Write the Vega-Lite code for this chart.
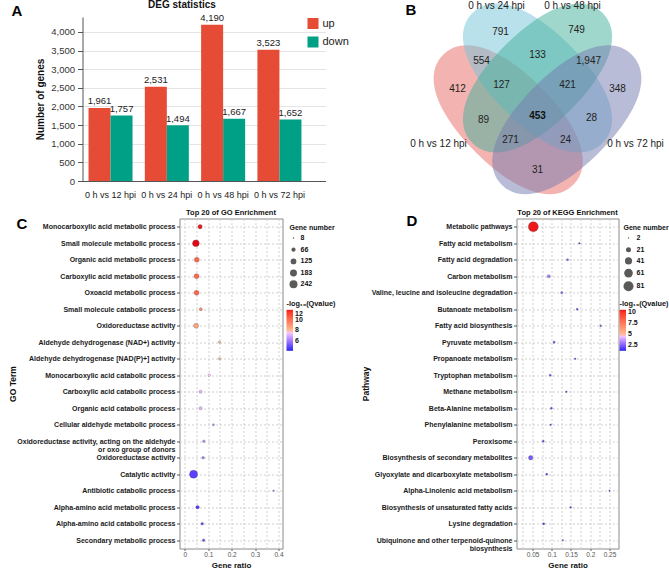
{
  "$schema": "https://vega.github.io/schema/vega-lite/v6.json",
  "background": "white",
  "padding": {"left": 6.5, "top": 0, "right": 0, "bottom": 0},
  "config": {"font": "Liberation Sans", "view": {"stroke": null}},
  "columns": 1,
  "spacing": 9.5,
  "align": "none",
  "resolve": {"scale": {"color": "independent", "fill": "independent", "size": "independent"}},
  "concat": [
    {
      "columns": 2,
      "spacing": 4,
      "align": "none",
      "resolve": {"scale": {"color": "independent"}},
      "concat": [
        {"width": 1, "height": 1, "data": {"values": [{}]}, "mark": {"type": "text", "text": ""}},
        {
          "columns": 2,
          "spacing": 49,
          "align": "none",
          "resolve": {"scale": {"color": "independent"}},
          "concat": [
            {
              "title": {"text": "A", "anchor": "start", "frame": "group", "fontSize": 15, "fontWeight": "bold", "color": "#000", "offset": -19, "dx": -71},
              "vconcat": [
                {
                  "title": {"text": "DEG statistics", "fontSize": 10, "fontWeight": "bold", "color": "#111", "anchor": "middle", "dx": -22, "offset": 3},
                  "width": 243,
                  "height": 164,
                  "data": {"values": [
                    {"comp": "0 h vs 12 hpi", "dir": "up", "n": 1961},
                    {"comp": "0 h vs 12 hpi", "dir": "down", "n": 1757},
                    {"comp": "0 h vs 24 hpi", "dir": "up", "n": 2531},
                    {"comp": "0 h vs 24 hpi", "dir": "down", "n": 1494},
                    {"comp": "0 h vs 48 hpi", "dir": "up", "n": 4190},
                    {"comp": "0 h vs 48 hpi", "dir": "down", "n": 1667},
                    {"comp": "0 h vs 72 hpi", "dir": "up", "n": 3523},
                    {"comp": "0 h vs 72 hpi", "dir": "down", "n": 1652}
                  ]},
                  "encoding": {
                    "x": {"field": "comp", "type": "nominal", "sort": null,
                      "scale": {"paddingInner": 0.218, "paddingOuter": 0.267, "align": 0.2},
                      "axis": {"title": null, "labelAngle": 0, "labelFontSize": 9, "labelColor": "#222", "ticks": false, "labelPadding": 9, "domainColor": "#555"}},
                    "xOffset": {"field": "dir", "type": "nominal", "sort": ["up", "down"], "scale": {"paddingInner": 0, "paddingOuter": 0}},
                    "y": {"field": "n", "type": "quantitative",
                      "scale": {"domain": [0, 4400], "nice": false},
                      "axis": {"values": [0, 500, 1000, 1500, 2000, 2500, 3000, 3500, 4000], "format": ",.0f", "title": "Number of genes", "titleFontSize": 10, "titleFontWeight": "bold", "titleColor": "#111", "titlePadding": 5, "labelFontSize": 9.5, "labelColor": "#333", "tickSize": 5, "tickColor": "#555", "domainColor": "#555", "gridColor": "#e4e4e4", "labelPadding": 3}}
                  },
                  "layer": [
                    {
                      "mark": {"type": "bar"},
                      "encoding": {
                        "color": {"field": "dir", "type": "nominal",
                          "scale": {"domain": ["up", "down"], "range": ["#E64B35", "#00A087"]},
                          "legend": {"orient": "none", "legendX": 225, "legendY": 1, "title": null, "symbolType": "square", "symbolSize": 121, "symbolStrokeWidth": 0, "labelFontSize": 11, "labelColor": "#222", "rowPadding": 6.5, "padding": 0, "labelOffset": 4}}
                      }
                    },
                    {
                      "mark": {"type": "text", "baseline": "bottom", "dy": -1.5, "fontSize": 9.5, "color": "#222"},
                      "encoding": {"text": {"field": "n", "type": "quantitative", "format": ","}}
                    }
                  ]
                }
              ]
            },
            {
              "title": {"text": "B", "anchor": "start", "frame": "group", "fontSize": 15, "fontWeight": "bold", "color": "#000", "offset": -16.5, "dx": 7},
              "width": 269,
              "height": 180,
              "layer": [
                {
                  "data": {"values": [
                    {"set": "0 h vs 12 hpi", "cx": 509.7, "cy": 119.7},
                    {"set": "0 h vs 24 hpi", "cx": 539, "cy": 78}
                  ]},
                  "mark": {"type": "point", "shape": "M1,0C1,0.31 0.62,0.5 0,0.5C-0.62,0.5 -1,0.31 -1,0C-1,-0.31 -0.62,-0.5 0,-0.5C0.62,-0.5 1,-0.31 1,0Z", "filled": true, "size": 33856, "angle": 45, "opacity": 0.5, "strokeWidth": 0},
                  "encoding": {
                    "x": {"field": "cx", "type": "quantitative", "scale": {"domain": [400, 669], "nice": false, "zero": false}, "axis": null},
                    "y": {"field": "cy", "type": "quantitative", "scale": {"domain": [17, 197], "nice": false, "zero": false, "reverse": true}, "axis": null},
                    "color": {"field": "set", "type": "nominal", "scale": {"domain": ["0 h vs 12 hpi", "0 h vs 24 hpi", "0 h vs 48 hpi", "0 h vs 72 hpi"], "range": ["#E86A64", "#73C3D7", "#41AF9B", "#7379AF"]}, "legend": null}
                  }
                },
                {
                  "data": {"values": [
                    {"set": "0 h vs 48 hpi", "cx": 539, "cy": 78},
                    {"set": "0 h vs 72 hpi", "cx": 568.3, "cy": 119.7}
                  ]},
                  "mark": {"type": "point", "shape": "M1,0C1,0.31 0.62,0.5 0,0.5C-0.62,0.5 -1,0.31 -1,0C-1,-0.31 -0.62,-0.5 0,-0.5C0.62,-0.5 1,-0.31 1,0Z", "filled": true, "size": 33856, "angle": -45, "opacity": 0.5, "strokeWidth": 0},
                  "encoding": {
                    "x": {"field": "cx", "type": "quantitative", "axis": null},
                    "y": {"field": "cy", "type": "quantitative", "axis": null},
                    "color": {"field": "set", "type": "nominal", "legend": null}
                  }
                },
                {
                  "data": {"values": [
                    {"n": 791, "x": 502, "y": 32},
                    {"n": 749, "x": 578, "y": 30},
                    {"n": 554, "x": 483, "y": 61},
                    {"n": 133, "x": 539, "y": 55},
                    {"n": 1947, "x": 590, "y": 61},
                    {"n": 412, "x": 459, "y": 89},
                    {"n": 127, "x": 503, "y": 85},
                    {"n": 421, "x": 569, "y": 85},
                    {"n": 348, "x": 619, "y": 89},
                    {"n": 89, "x": 485, "y": 120},
                    {"n": 453, "x": 539, "y": 116},
                    {"n": 28, "x": 593, "y": 118},
                    {"n": 271, "x": 512, "y": 140},
                    {"n": 24, "x": 567, "y": 140},
                    {"n": 31, "x": 539, "y": 170}
                  ]},
                  "layer": [
                    {
                      "transform": [{"filter": "datum.n != 453"}],
                      "mark": {"type": "text", "fontSize": 10, "color": "#222"},
                      "encoding": {
                        "x": {"field": "x", "type": "quantitative", "axis": null},
                        "y": {"field": "y", "type": "quantitative", "axis": null},
                        "text": {"field": "n", "type": "quantitative", "format": ","}
                      }
                    },
                    {
                      "transform": [{"filter": "datum.n == 453"}],
                      "mark": {"type": "text", "fontSize": 10, "fontWeight": "bold", "color": "#111"},
                      "encoding": {
                        "x": {"field": "x", "type": "quantitative", "axis": null},
                        "y": {"field": "y", "type": "quantitative", "axis": null},
                        "text": {"field": "n", "type": "quantitative", "format": ","}
                      }
                    }
                  ]
                },
                {
                  "data": {"values": [
                    {"label": "0 h vs 24 hpi", "x": 498, "y": 6},
                    {"label": "0 h vs 48 hpi", "x": 574, "y": 6},
                    {"label": "0 h vs 12 hpi", "x": 440, "y": 144},
                    {"label": "0 h vs 72 hpi", "x": 637, "y": 144}
                  ]},
                  "mark": {"type": "text", "fontSize": 10, "color": "#222"},
                  "encoding": {
                    "x": {"field": "x", "type": "quantitative", "axis": null},
                    "y": {"field": "y", "type": "quantitative", "axis": null},
                    "text": {"field": "label", "type": "nominal"}
                  }
                }
              ]
            }
          ]
        }
      ]
    },
    {
      "columns": 2,
      "spacing": 0,
      "align": "none",
      "resolve": {"scale": {"fill": "independent", "size": "independent"}},
      "concat": [
        {"width": 1, "height": 1, "data": {"values": [{}]}, "mark": {"type": "text", "text": ""}},
        {
          "columns": 2,
          "spacing": 25,
          "align": "none",
          "resolve": {"scale": {"fill": "independent", "size": "independent"}},
          "concat": [
            {
              "title": {"text": "C", "anchor": "start", "frame": "group", "fontSize": 15, "fontWeight": "bold", "color": "#000", "offset": -23.5, "dx": -163},
              "vconcat": [
                {
                  "title": {"text": "Top 20 of GO Enrichment", "fontSize": 7.5, "fontWeight": "bold", "color": "#111", "offset": 2},
                  "width": 103,
                  "height": 330,
                  "view": {"stroke": "#8a8a8a", "strokeWidth": 1},
                  "data": {"values": [
                    {"term": "Monocarboxylic acid metabolic process", "ratio": 0.065, "count": 70, "q": 12.0},
                    {"term": "Small molecule metabolic process", "ratio": 0.047, "count": 170, "q": 12.2},
                    {"term": "Organic acid metabolic process", "ratio": 0.051, "count": 94, "q": 10.3},
                    {"term": "Carboxylic acid metabolic process", "ratio": 0.05, "count": 94, "q": 10.3},
                    {"term": "Oxoacid metabolic process", "ratio": 0.05, "count": 94, "q": 10.3},
                    {"term": "Small molecule catabolic process", "ratio": 0.068, "count": 34, "q": 9.2},
                    {"term": "Oxidoreductase activity", "ratio": 0.048, "count": 94, "q": 8.6},
                    {"term": "Aldehyde dehydrogenase (NAD+) activity", "ratio": 0.148, "count": 20, "q": 8.0},
                    {"term": "Aldehyde dehydrogenase [NAD(P)+] activity", "ratio": 0.148, "count": 20, "q": 8.0},
                    {"term": "Monocarboxylic acid catabolic process", "ratio": 0.104, "count": 24, "q": 7.7},
                    {"term": "Carboxylic acid catabolic process", "ratio": 0.067, "count": 34, "q": 7.2},
                    {"term": "Organic acid catabolic process", "ratio": 0.067, "count": 34, "q": 7.2},
                    {"term": "Cellular aldehyde metabolic process", "ratio": 0.122, "count": 16, "q": 6.4},
                    {"term": "Oxidoreductase activity, acting on the aldehyde|or oxo group of donors", "ratio": 0.081, "count": 24, "q": 6.4},
                    {"term": "Oxidoreductase activity ", "ratio": 0.078, "count": 24, "q": 6.1},
                    {"term": "Catalytic activity", "ratio": 0.037, "count": 242, "q": 4.7},
                    {"term": "Antibiotic catabolic process", "ratio": 0.379, "count": 10, "q": 5.8},
                    {"term": "Alpha-amino acid metabolic process", "ratio": 0.054, "count": 46, "q": 4.6},
                    {"term": "Alpha-amino acid catabolic process", "ratio": 0.074, "count": 24, "q": 4.8},
                    {"term": "Secondary metabolic process", "ratio": 0.08, "count": 24, "q": 5.0}
                  ]},
                  "mark": {"type": "circle", "opacity": 1, "stroke": "#333", "strokeWidth": 0.5, "strokeOpacity": 0.5},
                  "encoding": {
                    "x": {"field": "ratio", "type": "quantitative",
                      "scale": {"domain": [-0.023, 0.417], "nice": false, "zero": false},
                      "axis": {"values": [0, 0.05, 0.1, 0.15, 0.2, 0.25, 0.3, 0.35, 0.4], "format": ".2~f",
                        "labelExpr": "round(datum.value*100) % 10 == 0 ? datum.label : ''",
                        "tickOpacity": {"condition": {"test": "round(datum.value*100) % 10 == 0", "value": 1}, "value": 0},
                        "title": "Gene ratio", "titleFontSize": 8, "titleFontWeight": "bold", "titleColor": "#111", "titlePadding": 3,
                        "labelFontSize": 6.5, "labelColor": "#555", "tickSize": 2, "tickColor": "#666", "labelPadding": 1,
                        "domain": false, "grid": true, "gridDash": [2, 2], "gridColor": "#cfcfcf"}},
                    "y": {"field": "term", "type": "nominal", "sort": null,
                      "scale": {"type": "point", "padding": 0.5},
                      "axis": {"title": "GO Term", "titleFontSize": 8.5, "titleFontWeight": "bold", "titleColor": "#111", "titlePadding": 8,
                        "labelExpr": "split(trim(datum.label), '|')", "labelLineHeight": 8, "labelLimit": 300,
                        "labelFontSize": 7, "labelFontWeight": "bold", "labelColor": "#1a1a1a", "labelPadding": 1.5,
                        "tickSize": 3, "tickColor": "#555", "domain": false, "grid": true, "gridDash": [2, 2], "gridColor": "#cfcfcf",
                        "minExtent": 154, "maxExtent": 154}},
                    "size": {"field": "count", "type": "quantitative",
                      "scale": {"domain": [8, 242], "range": [2.25, 64]},
                      "legend": {"orient": "none", "legendX": 110, "legendY": 5, "title": "Gene number", "values": [8, 66, 125, 183, 242],
                        "titleFontSize": 7, "titleFontWeight": "bold", "titleColor": "#111", "titlePadding": 4,
                        "labelFontSize": 7, "labelFontWeight": "bold", "labelColor": "#111", "labelOffset": 3, "rowPadding": 3.7, "padding": 0,
                        "symbolFillColor": "#5a5a5a", "symbolStrokeColor": "#5a5a5a", "symbolStrokeWidth": 0,
                        "encode": {"symbols": {"update": {"size": {"signal": "1.7 + (datum.value - 8) * 0.1466"}, "fill": {"value": "#5a5a5a"}, "stroke": {"value": "#5a5a5a"}, "strokeWidth": {"value": 0}}}}}},
                    "fill": {"field": "q", "type": "quantitative",
                      "scale": {"domain": [4, 12], "domainMid": 8, "range": ["#2424E6", "#FFFFFF", "#EE1A1A"]},
                      "legend": {"orient": "none", "legendX": 107, "legendY": 81, "title": "-log₁₀(Qvalue)", "values": [6, 8, 10, 12], "format": ".0f", "labelOverlap": false, "direction": "vertical",
                        "gradientLength": 41, "gradientThickness": 6.5, "gradientStrokeWidth": 0,
                        "titleFontSize": 7.3, "titleFontWeight": "bold", "titleColor": "#111", "titlePadding": 3,
                        "labelFontSize": 7, "labelFontWeight": "bold", "labelColor": "#111", "labelOffset": 2, "padding": 0}}
                  }
                }
              ]
            },
            {
              "title": {"text": "D", "anchor": "start", "frame": "group", "fontSize": 15, "fontWeight": "bold", "color": "#000", "offset": -20.5, "dx": -110},
              "vconcat": [
                {
                  "title": {"text": "Top 20 of KEGG Enrichment", "fontSize": 7.5, "fontWeight": "bold", "color": "#111", "offset": 2},
                  "width": 102,
                  "height": 330,
                  "view": {"stroke": "#8a8a8a", "strokeWidth": 1},
                  "data": {"values": [
                    {"term": "Metabolic pathways", "ratio": 0.052, "count": 81, "q": 10.4},
                    {"term": "Fatty acid metabolism", "ratio": 0.172, "count": 3, "q": 2.2},
                    {"term": "Fatty acid degradation", "ratio": 0.141, "count": 4, "q": 2.4},
                    {"term": "Carbon metabolism", "ratio": 0.092, "count": 9, "q": 3.2},
                    {"term": "Valine, leucine and isoleucine degradation", "ratio": 0.126, "count": 5, "q": 2.8},
                    {"term": "Butanoate metabolism", "ratio": 0.166, "count": 4, "q": 2.3},
                    {"term": "Fatty acid biosynthesis", "ratio": 0.227, "count": 3, "q": 2.0},
                    {"term": "Pyruvate metabolism", "ratio": 0.106, "count": 5, "q": 2.6},
                    {"term": "Propanoate metabolism", "ratio": 0.161, "count": 3, "q": 2.0},
                    {"term": "Tryptophan metabolism", "ratio": 0.096, "count": 4, "q": 2.2},
                    {"term": "Methane metabolism", "ratio": 0.138, "count": 3, "q": 1.9},
                    {"term": "Beta-Alanine metabolism", "ratio": 0.099, "count": 4, "q": 2.0},
                    {"term": "Phenylalanine metabolism", "ratio": 0.097, "count": 3, "q": 1.9},
                    {"term": "Peroxisome", "ratio": 0.078, "count": 4, "q": 1.9},
                    {"term": "Biosynthesis of secondary metabolites", "ratio": 0.045, "count": 16, "q": 2.4},
                    {"term": "Glyoxylate and dicarboxylate metabolism", "ratio": 0.087, "count": 4, "q": 1.8},
                    {"term": "Alpha-Linolenic acid metabolism", "ratio": 0.25, "count": 2, "q": 1.7},
                    {"term": "Biosynthesis of unsaturated fatty acids", "ratio": 0.149, "count": 3, "q": 1.7},
                    {"term": "Lysine degradation", "ratio": 0.079, "count": 4, "q": 1.6},
                    {"term": "Ubiquinone and other terpenoid-quinone|biosynthesis", "ratio": 0.129, "count": 2, "q": 1.5}
                  ]},
                  "mark": {"type": "circle", "opacity": 1, "stroke": "#333", "strokeWidth": 0.5, "strokeOpacity": 0.5},
                  "encoding": {
                    "x": {"field": "ratio", "type": "quantitative",
                      "scale": {"domain": [0.0083, 0.2735], "nice": false, "zero": false},
                      "axis": {"values": [0.025, 0.05, 0.075, 0.1, 0.125, 0.15, 0.175, 0.2, 0.225, 0.25], "format": ".3~f",
                        "labelExpr": "round(datum.value*1000) % 50 == 0 ? datum.label : ''",
                        "tickOpacity": {"condition": {"test": "round(datum.value*1000) % 50 == 0", "value": 1}, "value": 0},
                        "title": "Gene ratio", "titleFontSize": 8, "titleFontWeight": "bold", "titleColor": "#111", "titlePadding": 3,
                        "labelFontSize": 6.5, "labelColor": "#555", "tickSize": 2, "tickColor": "#666", "labelPadding": 1,
                        "domain": false, "grid": true, "gridDash": [2, 2], "gridColor": "#cfcfcf"}},
                    "y": {"field": "term", "type": "nominal", "sort": null,
                      "scale": {"type": "point", "padding": 0.5},
                      "axis": {"title": "Pathway", "titleFontSize": 8.5, "titleFontWeight": "bold", "titleColor": "#111", "titlePadding": 1,
                        "labelExpr": "split(trim(datum.label), '|')", "labelLineHeight": 8, "labelLimit": 300,
                        "labelFontSize": 7, "labelFontWeight": "bold", "labelColor": "#1a1a1a", "labelPadding": 1.5,
                        "tickSize": 3, "tickColor": "#555", "domain": false, "grid": true, "gridDash": [2, 2], "gridColor": "#cfcfcf",
                        "minExtent": 145, "maxExtent": 145}},
                    "size": {"field": "count", "type": "quantitative",
                      "scale": {"domain": [2, 81], "range": [1.7, 100]},
                      "legend": {"orient": "none", "legendX": 107, "legendY": 5, "title": "Gene number", "values": [2, 21, 41, 61, 81],
                        "titleFontSize": 7, "titleFontWeight": "bold", "titleColor": "#111", "titlePadding": 4,
                        "labelFontSize": 7, "labelFontWeight": "bold", "labelColor": "#111", "labelOffset": 3, "rowPadding": 3.7, "padding": 0,
                        "symbolFillColor": "#5a5a5a", "symbolStrokeColor": "#5a5a5a", "symbolStrokeWidth": 0,
                        "encode": {"symbols": {"update": {"size": {"signal": "1.7 + (datum.value - 2) * 0.39"}, "fill": {"value": "#5a5a5a"}, "stroke": {"value": "#5a5a5a"}, "strokeWidth": {"value": 0}}}}}},
                    "fill": {"field": "q", "type": "quantitative",
                      "scale": {"domain": [1.3, 10.4], "domainMid": 5, "range": ["#2424E6", "#FFFFFF", "#EE1A1A"]},
                      "legend": {"orient": "none", "legendX": 103, "legendY": 81, "title": "-log₁₀(Qvalue)", "values": [2.5, 5, 7.5, 10], "format": ".1~f", "labelOverlap": false, "direction": "vertical",
                        "gradientLength": 41, "gradientThickness": 6.5, "gradientStrokeWidth": 0,
                        "titleFontSize": 7.3, "titleFontWeight": "bold", "titleColor": "#111", "titlePadding": 3,
                        "labelFontSize": 7, "labelFontWeight": "bold", "labelColor": "#111", "labelOffset": 2, "padding": 0}}
                  }
                }
              ]
            }
          ]
        }
      ]
    }
  ]
}
